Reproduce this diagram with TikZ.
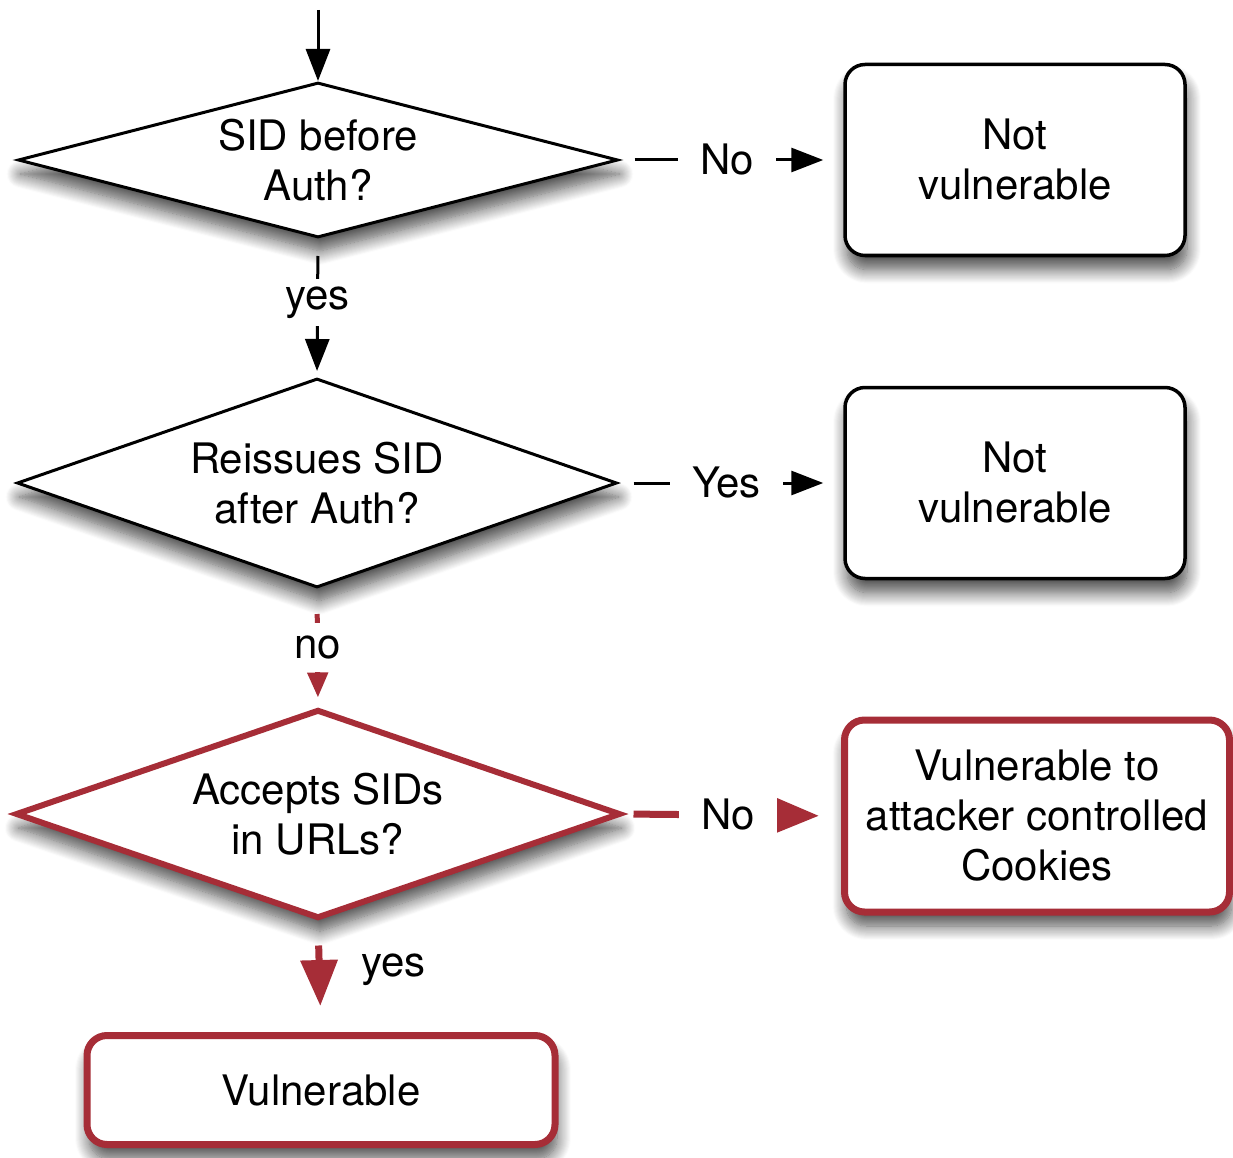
\documentclass[tikz,border=0pt]{standalone}
\usepackage{fontspec}
\setmainfont{TeX Gyre Heros}
\usetikzlibrary{shapes.geometric,arrows.meta,shadows.blur}
\definecolor{vred}{RGB}{166,45,55}
\begin{document}
\begin{tikzpicture}[x=1pt,y=-1pt,
  every node/.style={font=\fontsize{42}{50}\selectfont},
  shad/.style={blur shadow={shadow xshift=2pt,shadow yshift=-14pt,shadow blur radius=14pt,shadow opacity=70,shadow blur steps=14}},
  dia/.style={diamond,draw=black,line width=3pt,fill=white,inner sep=0pt,align=center,shad},
  rdia/.style={dia,draw=vred,line width=6pt},
  bx/.style={rectangle,rounded corners=20pt,draw=black,line width=3.5pt,fill=white,align=center,inner sep=0pt,shad},
  rbx/.style={bx,draw=vred,line width=7pt},
  blk/.style={line width=3pt,-{Triangle[length=32pt,width=24pt]}},
  rthin/.style={draw=vred,line width=5pt,-{Triangle[length=25pt,width=20pt]}},
  rthick/.style={draw=vred,line width=7pt,-{Triangle[length=46pt,width=36pt]}},
  lblh/.style={fill=white,inner xsep=22pt,inner ysep=4pt},
  lblv/.style={fill=white,inner xsep=4pt,inner ysep=8pt}
]
\useasboundingbox (0,0) rectangle (1233,1158);
\node[dia,aspect=3.87,minimum width=600pt,minimum height=155pt] (d1) at (318,160) {SID before\\Auth?};
\node[dia,aspect=2.87,minimum width=600pt,minimum height=209pt] (d2) at (317,483) {Reissues SID\\after Auth?};
\node[rdia,aspect=2.9,minimum width=605pt,minimum height=209pt] (d3) at (318,814) {Accepts SIDs\\in URLs?};
\node[bx,minimum width=340pt,minimum height=191pt] (b1) at (1015,160) {Not\\vulnerable};
\node[bx,minimum width=340pt,minimum height=191pt] (b2) at (1015,483) {Not\\vulnerable};
\node[rbx,minimum width=385pt,minimum height=192pt] (b3) at (1037,816) {Vulnerable to\\attacker controlled\\Cookies};
\node[rbx,minimum width=468pt,minimum height=109pt] (b4) at (321,1090) {Vulnerable};
\coordinate (start) at (318,10);
\draw[blk] (start) -- (d1.north);
\draw[blk,shorten <=17pt,shorten >=6pt] (d1.south) -- node[lblv,pos=0.46]{yes} (d2.north);
\draw[blk,shorten <=15pt,shorten >=20pt] (d1.east) -- node[lblh,pos=0.48]{No} (b1.west);
\draw[blk,shorten <=15pt,shorten >=20pt] (d2.east) -- node[lblh,pos=0.48]{Yes} (b2.west);
\draw[rthin,shorten <=25pt,shorten >=9pt] (d2.south) -- node[lblv,pos=0.5,inner ysep=13pt]{no} (d3.north);
\draw[rthick,shorten <=10pt,shorten >=22pt] (d3.east) -- node[lblh,pos=0.48]{No} (b3.west);
\draw[rthick,shorten <=24pt,shorten >=26pt] (d3.south) -- (b4.north);
\node[anchor=west] (ly) at (358,970) {yes};
\end{tikzpicture}
\end{document}
